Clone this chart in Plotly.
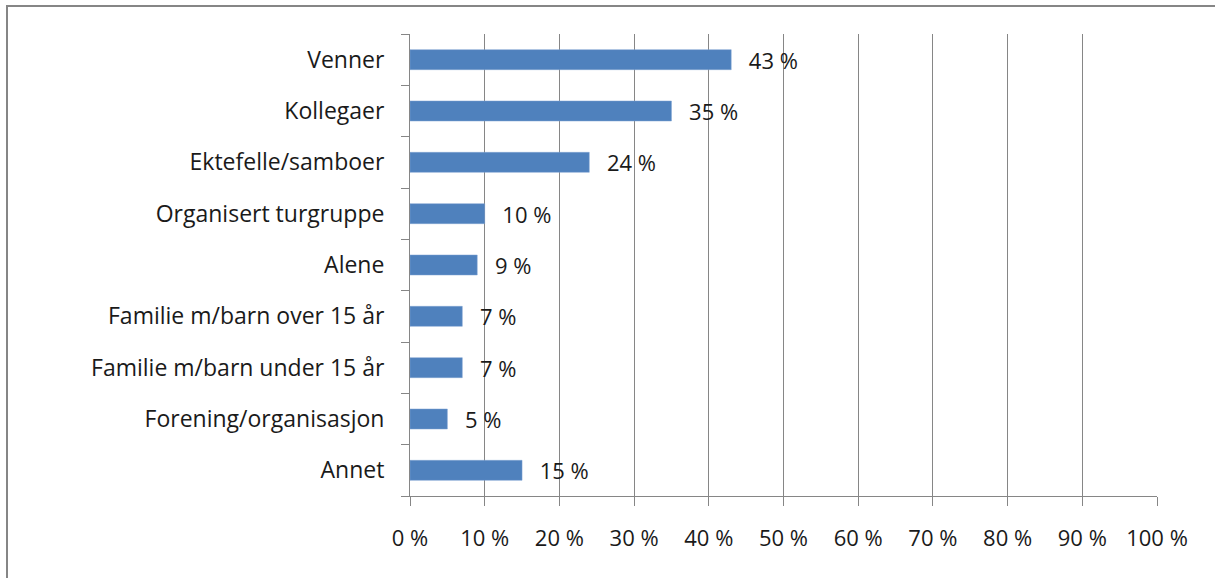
import plotly.graph_objects as go

categories = ["Venner", "Kollegaer", "Ektefelle/samboer", "Organisert turgruppe", "Alene",
              "Familie m/barn over 15 år", "Familie m/barn under 15 år",
              "Forening/organisasjon", "Annet"]
values = [43, 35, 24, 10, 9, 7, 7, 5, 15]
tick_vals = [0, 10, 20, 30, 40, 50, 60, 70, 80, 90, 100]
tick_text = [f"{v} %" for v in tick_vals]
labels = [f"{v} %" for v in values]

font_family = "'Open Sans', Lato, sans-serif"
grey = "#868686"
txt = "#1a1a1a"

fig = go.Figure()
fig.add_trace(go.Bar(
    y=categories, x=values, orientation="h",
    marker=dict(color="#4F81BD", line=dict(color="#7FA3D3", width=0.5)),
    text=["\u2002\u2009" + t for t in labels], textposition="outside",
    textfont=dict(family=font_family, size=22, color=txt),
    constraintext="none",
    cliponaxis=False,
    hoverinfo="skip",
))

fig.update_layout(
    width=1215, height=578,
    margin=dict(l=410, r=58, t=34, b=82),
    paper_bgcolor="white", plot_bgcolor="white",
    bargap=0.61,
    showlegend=False,
    font=dict(family=font_family, size=22, color=txt),
    shapes=[dict(type="rect", xref="paper", yref="paper",
                 x0=(7 - 410) / 747, x1=1.3, y0=-0.3, y1=1 + 28 / 462,
                 line=dict(color=grey, width=2), fillcolor="rgba(0,0,0,0)", layer="below")],
)
fig.update_xaxes(
    range=[0, 100], tickvals=tick_vals, ticktext=tick_text,
    showgrid=True, gridcolor=grey, gridwidth=1,
    showline=True, linecolor=grey, linewidth=1,
    ticks="outside", ticklen=9, tickcolor=grey,
    ticklabelstandoff=14, zeroline=False,
    tickfont=dict(family=font_family, size=22, color=txt),
)
fig.update_yaxes(
    categoryorder="array", categoryarray=categories[::-1],
    showline=True, linecolor=grey, linewidth=1,
    ticks="outside", ticklen=8, tickcolor=grey,
    showgrid=False,
    tickson="boundaries",
    ticklabelstandoff=20,
    tickfont=dict(family=font_family, size=23, color=txt),
)

fig.write_html("out.html", config={"displayModeBar": False},
               post_script="document.body.style.margin='0px';")
